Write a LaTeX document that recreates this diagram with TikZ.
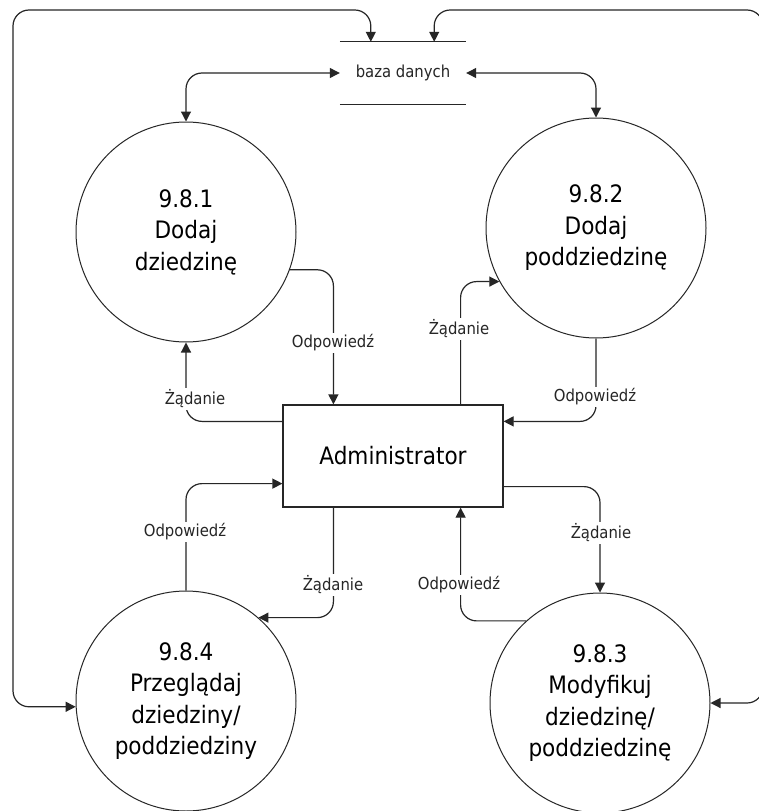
\documentclass[tikz,border=0pt]{standalone}
\usepackage{fontspec}
\setmainfont{DejaVu Sans Condensed}
\usetikzlibrary{arrows.meta,calc}
\begin{document}
\begin{tikzpicture}[x=1pt,y=-1pt,
  proc/.style={circle,draw=black!85,line width=1pt,minimum size=220pt,inner sep=0pt,align=center,font=\fontsize{24}{31.5}\selectfont},
  ent/.style={rectangle,draw=black!85,line width=1.2pt,minimum width=220pt,minimum height=102pt,inner sep=0pt,font=\fontsize{24}{30}\selectfont},
  flow/.style={draw=black!85,line width=1.2pt,rounded corners=16pt,-{Triangle[length=10pt,width=10pt]}},
  bflow/.style={flow,{Triangle[length=10pt,width=10pt]}-{Triangle[length=10pt,width=10pt]}},
  lbl/.style={fill=white,inner sep=1.5pt,text=black!85,font=\fontsize{16.5}{18}\selectfont}]
\useasboundingbox (0,0) rectangle (759,811);
\fill[white] (0,0) rectangle (759,811);
% processes
\node[proc] (c1) at (186,232) {9.8.1\\Dodaj\\dziedzinę};
\node[proc] (c2) at (596,228) {9.8.2\\Dodaj\\poddziedzinę};
\node[proc] (c3) at (600,703) {9.8.3\\Modyfikuj\\dziedzinę/\\poddziedzinę};
\node[proc] (c4) at (186,701) {9.8.4\\Przeglądaj\\dziedziny/\\poddziedziny};
\node[ent] (admin) at (393,456) {Administrator};
% data store
\node[minimum width=126pt,minimum height=62pt,inner sep=0pt,text=black!85,font=\fontsize{16.5}{18}\selectfont] (db) at (403,73) {baza danych};
\draw[line width=1.2pt,black!85] (db.north west) -- (db.north east) (db.south west) -- (db.south east);
\coordinate (lt) at (13,10);
\coordinate (rt) at (763,10);
% flows
\draw[flow] (c1.-20) -| ($(admin.north west)+(51,0)$);
\draw[flow] ($(admin.north west)+(0,17)$) -| (c1.south);
\draw[flow] ($(admin.north east)+(-43,0)$) |- (c2.209);
\draw[flow] (c2.south) |- ($(admin.north east)+(0,17)$);
\draw[flow] ($(admin.south east)+(0,-21)$) -| (c3.north);
\draw[flow] (c3.132) -| ($(admin.south east)+(-43,0)$);
\draw[flow] (c4.north) |- ($(admin.south west)+(0,-24)$);
\draw[flow] ($(admin.south west)+(51,0)$) |- (c4.49);
\draw[bflow] (db.west) -| (c1.north);
\draw[bflow] (db.east) -| (c2.north);
\draw[bflow] (c4.183) -| (lt) -| ($(db.north west)+(31,0)$);
\draw[bflow] ($(db.north east)+(-32,0)$) |- (rt) |- (c3.east);
% labels
\node[lbl] (l1) at (333,343) {Odpowiedź};
\node[lbl] (l2) at (195,399) {Żądanie};
\node[lbl] (l3) at (459,329) {Żądanie};
\node[lbl] (l4) at (595,397) {Odpowiedź};
\node[lbl] (l5) at (601,533) {Żądanie};
\node[lbl] (l6) at (459,585) {Odpowiedź};
\node[lbl] (l7) at (185,532) {Odpowiedź};
\node[lbl] (l8) at (333,585) {Żądanie};
\end{tikzpicture}
\end{document}
